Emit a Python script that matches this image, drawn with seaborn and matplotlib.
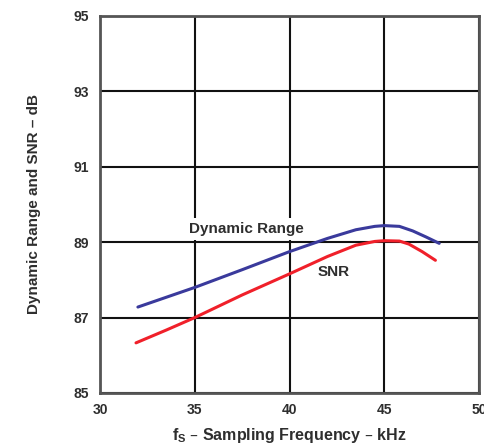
import matplotlib
matplotlib.use("Agg")
import matplotlib.pyplot as plt
import seaborn as sns
import pandas as pd

# Dynamic range curve (kHz, dB)
dr_freq = [32.0, 33.5, 35.0, 37.5, 40.0, 42.0, 43.5, 44.5, 45.0, 45.8, 46.5, 47.2, 47.9]
dr_db = [87.28, 87.54, 87.80, 88.27, 88.75, 89.10, 89.33, 89.42, 89.44, 89.42, 89.30, 89.14, 88.97]

# SNR curve (kHz, dB)
snr_freq = [31.9, 33.5, 35.0, 37.5, 40.0, 42.0, 43.5, 44.5, 45.0, 45.8, 46.3, 47.0, 47.7]
snr_db = [86.33, 86.67, 87.00, 87.60, 88.16, 88.62, 88.92, 89.02, 89.04, 89.03, 88.95, 88.75, 88.52]

x_ticks = [30, 35, 40, 45, 50]
y_ticks = [85, 87, 89, 91, 93, 95]

df = pd.concat([
    pd.DataFrame({"freq": dr_freq, "db": dr_db, "curve": "Dynamic Range"}),
    pd.DataFrame({"freq": snr_freq, "db": snr_db, "curve": "SNR"}),
])

sns.set_theme(style="white")
plt.rcParams["font.family"] = ["Liberation Sans", "DejaVu Sans"]

text_col = "#2e2e2e"

fig = plt.figure(figsize=(4.85, 4.43), dpi=100)
ax = fig.add_axes([100 / 485, 1 - 393 / 443, 379 / 485, 377 / 443])

ax.set_xlim(30, 50)
ax.set_ylim(85, 95)
ax.set_xticks(x_ticks)
ax.set_yticks(y_ticks)
ax.grid(True, color="#111111", linewidth=1.5, zorder=0)
ax.set_axisbelow(True)

sns.lineplot(data=df, x="freq", y="db", hue="curve", sort=False,
             palette={"Dynamic Range": "#3a3a9c", "SNR": "#f0202a"},
             linewidth=2.2, legend=False, ax=ax, zorder=3)

for s in ax.spines.values():
    s.set_color("#555555")
    s.set_linewidth(2)

ax.tick_params(axis="both", length=0, labelsize=10, colors=text_col)
ax.tick_params(axis="x", pad=7)
ax.tick_params(axis="y", pad=8)
for lbl in ax.get_xticklabels() + ax.get_yticklabels():
    lbl.set_fontweight("bold")

ax.text(37.75, 89.36, "Dynamic Range", fontsize=11, fontweight="bold", color=text_col,
        ha="center", va="center", zorder=2,
        bbox=dict(facecolor="white", edgecolor="none", pad=3))
ax.text(42.35, 88.2, "SNR", fontsize=11, fontweight="bold", color=text_col,
        ha="center", va="center", zorder=4)

ax.set_xlabel("f$_\\mathregular{S}$ – Sampling Frequency – kHz", fontsize=11.5,
              fontweight="bold", color=text_col, labelpad=7)
ax.set_ylabel("Dynamic Range and SNR – dB", fontsize=11, fontweight="bold",
              color=text_col, labelpad=23)

fig.savefig("out.png", dpi=100, facecolor="white")
